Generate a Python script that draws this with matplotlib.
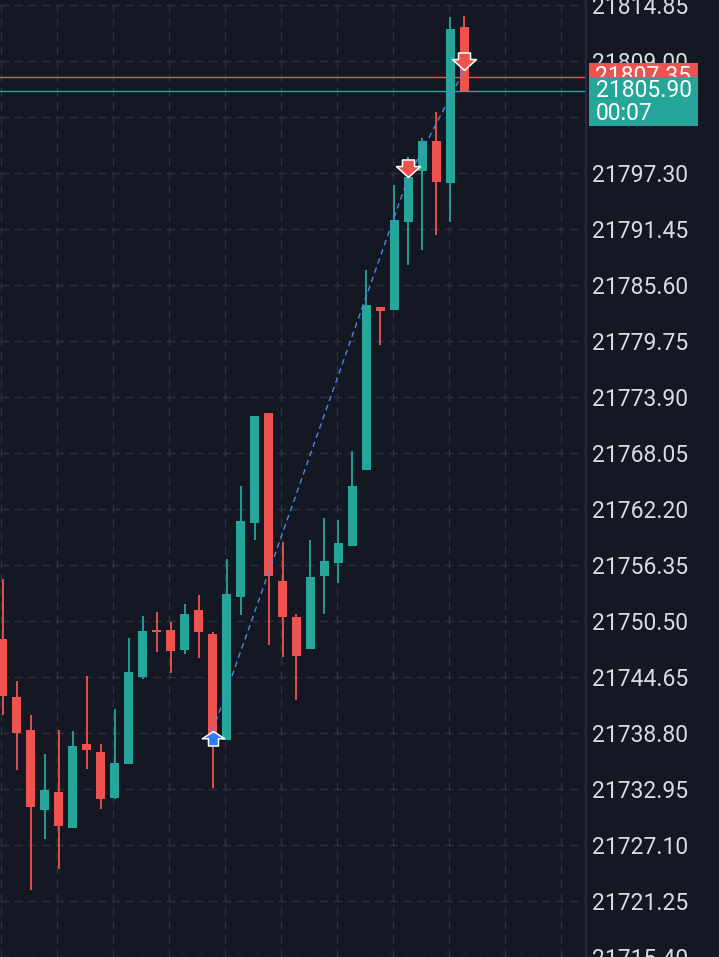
import numpy as np
import matplotlib
matplotlib.use("Agg")
import matplotlib.pyplot as plt
from matplotlib.path import Path
from matplotlib.patches import Rectangle
import matplotlib.transforms as mtransforms

# candle data (one candle per bar, oldest first)
opens = [21748.62, 21742.56, 21739.11, 21730.76, 21732.64, 21728.88, 21737.65, 21736.82,
         21732.01, 21735.56, 21744.65, 21749.56, 21749.56, 21747.47, 21751.65, 21749.14,
         21738.07, 21753.01, 21760.74, 21772.23, 21754.68, 21750.92, 21747.58, 21755.20,
         21756.56, 21758.34, 21766.27, 21783.30, 21782.99, 21792.18, 21797.51, 21800.64,
         21796.26, 21812.55]
highs = [21754.89, 21744.23, 21740.68, 21736.61, 21739.11, 21739.01, 21744.75, 21737.65,
         21741.31, 21748.72, 21751.02, 21751.44, 21750.40, 21752.28, 21753.22, 21749.35,
         21756.98, 21764.60, 21771.92, 21772.23, 21758.75, 21751.23, 21758.96, 21761.26,
         21761.05, 21768.26, 21787.17, 21783.30, 21796.05, 21798.97, 21800.96, 21803.67,
         21813.60, 21813.70]
lows = [21740.68, 21734.93, 21722.40, 21727.73, 21724.59, 21728.88, 21735.04, 21730.86,
        21731.91, 21735.56, 21744.44, 21747.26, 21745.07, 21747.05, 21746.63, 21733.05,
        21738.07, 21751.13, 21758.96, 21747.99, 21746.74, 21742.25, 21747.58, 21751.23,
        21754.47, 21758.34, 21766.27, 21779.33, 21782.99, 21787.69, 21789.26, 21790.82,
        21792.18, 21805.90]
closes = [21742.67, 21738.80, 21731.07, 21732.85, 21729.08, 21737.44, 21737.02, 21731.91,
          21735.67, 21745.17, 21749.46, 21749.35, 21747.37, 21751.23, 21749.35, 21738.28,
          21753.32, 21760.95, 21771.92, 21755.20, 21750.92, 21746.84, 21755.10, 21756.77,
          21758.65, 21764.60, 21783.51, 21782.88, 21792.39, 21796.88, 21800.64, 21796.36,
          21812.34, 21805.90]

# trades
buy_idx = [15]
buy_price = [21739.0]
sell_idx = [29, 33]
sell_price = [21796.9, 21808.1]

ask_price = 21807.35
last_price = 21805.90
countdown = "00:07"

tick_start = 21715.40
tick_step = 5.85
tick_count = 18

BG = "#131822"
GREEN = "#26a69a"
RED = "#ef5350"
GRID = "#2c3240"
TXT = "#d9dce3"

fig = plt.figure(figsize=(7.19, 9.57), dpi=100, facecolor=BG)
ax = fig.add_axes([0, 0, 586 / 719, 1])
ax.set_facecolor(BG)

x = np.arange(len(opens))
o = np.array(opens)
c = np.array(closes)
up = c >= o
colors = np.where(up, GREEN, RED)

ymin, ymax = 21715.40, 21815.37
ax.set_xlim(-0.18, 41.68)
ax.set_ylim(ymin, ymax)
ppu = 957 / (ymax - ymin)  # pixels per price unit

# grid
ticks = [round(tick_start + tick_step * k, 2) for k in range(tick_count)]
for t in ticks:
    ax.axhline(t, color=GRID, lw=1, ls=(0, (6, 4)), zorder=0)
for gx in np.arange(0, 42, 4) - 0.1:
    ax.axvline(gx, color=GRID, lw=1, ls=(0, (6, 4)), zorder=0)

# wicks and bodies
ax.vlines(x, lows, highs, colors=colors, lw=1.3, zorder=2)
body_h = np.maximum(np.abs(c - o), 2.2 / ppu)
ax.bar(x, body_h, bottom=np.minimum(o, c), width=0.64, color=colors, zorder=3)

# price lines
ax.axhline(ask_price, color=RED, lw=1, zorder=2.5)
ax.axhline(last_price, color=GREEN, lw=1, zorder=2.5)

# trade connection line
tx = buy_idx + sell_idx
tp = buy_price + sell_price
ax.plot(tx, tp, color="#4f86e8", lw=1, ls=(0, (4, 3)), zorder=4)

# arrow markers (tip at origin)
up_arrow = Path([(0, 0), (10, -6.5), (4.5, -6.5), (4.5, -13), (-4.5, -13),
                 (-4.5, -6.5), (-10, -6.5), (0, 0)])
down_arrow = Path([(0, 0), (-11, 10), (-5.5, 10), (-5.5, 16), (5.5, 16),
                   (5.5, 10), (11, 10), (0, 0)])
ax.plot(buy_idx, buy_price, ls="none", marker=up_arrow, ms=2 * 14.5 * 0.72,
        mfc="#2f7cf6", mec="white", mew=1.1, zorder=5)
ax.plot(sell_idx, sell_price, ls="none", marker=down_arrow, ms=2 * 17.5 * 0.72,
        mfc=RED, mec="white", mew=1.1, zorder=5)

# axis styling
for s in ["top", "left", "bottom"]:
    ax.spines[s].set_visible(False)
ax.spines["right"].set_color("#2a2f3b")
ax.spines["right"].set_linewidth(1.2)
ax.set_xticks([])
ax.yaxis.tick_right()
ax.set_yticks(ticks)
ax.set_yticklabels([f"{t:.2f}" for t in ticks])
ax.tick_params(axis="y", length=0, pad=4.5, labelsize=16.5, labelcolor=TXT)
for lab in ax.get_yticklabels():
    lab.set_fontfamily("Roboto")

# price label boxes on the scale
tr = mtransforms.blended_transform_factory(fig.transFigure, ax.transData)
bx0, bw = 589 / 719, 109 / 719
red_box = Rectangle((bx0, ask_price - 13.5 / ppu), bw, 27 / ppu, transform=tr,
                    facecolor=RED, edgecolor="none", zorder=5)
fig.add_artist(red_box)
fig.text(595 / 719, ask_price, f"{ask_price:.2f}", transform=tr, color="white",
         fontsize=16.5, family="Roboto", va="center", ha="left", zorder=6)
cyan_box = Rectangle((bx0, last_price - 35.5 / ppu), bw, 49 / ppu, transform=tr,
                     facecolor=GREEN, edgecolor="none", zorder=7)
fig.add_artist(cyan_box)
fig.text(596 / 719, last_price, f"{last_price:.2f}", transform=tr, color="white",
         fontsize=16.5, family="Roboto", va="center", ha="left", zorder=8)
fig.text(596 / 719, last_price - 23 / ppu, countdown, transform=tr, color="white",
         fontsize=16.5, family="Roboto", va="center", ha="left", zorder=8)

fig.savefig("out.png", dpi=100, facecolor=BG)
